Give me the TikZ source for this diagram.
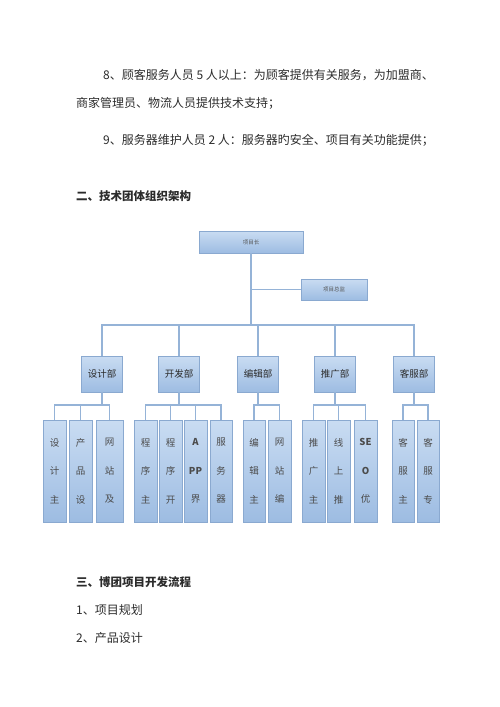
\documentclass[tikz,border=0pt]{standalone}
\usepackage{fontspec}
\setmainfont{Noto Sans CJK SC}
\definecolor{txt}{HTML}{2B2B2B}
\definecolor{boxtop}{HTML}{C9DCF2}
\definecolor{boxbot}{HTML}{9DBCE2}
\definecolor{boxline}{HTML}{8AA9D0}
\definecolor{conn}{HTML}{95B3D7}
\tikzset{
  para/.style={anchor=west, text=txt, font=\fontsize{12}{13}\selectfont, inner sep=0pt},
  head/.style={anchor=west, text=txt, font=\fontsize{11.5}{13}\selectfont\bfseries, inner sep=0pt},
  orgbox/.style={draw=boxline, line width=0.8pt, top color=boxtop, bottom color=boxbot, inner sep=0pt},
  dept/.style={orgbox, minimum width=41pt, minimum height=36pt, text=txt, font=\fontsize{9.5}{11}\selectfont},
  leaf/.style={orgbox, minimum height=102pt, text=txt!85, align=center, font=\fontsize{9.5}{28.5}\selectfont},
  conline/.style={draw=conn, line width=1.2pt}
}
\begin{document}
\begin{tikzpicture}[x=1pt,y=-1pt]
\useasboundingbox (0,0) rectangle (500,707);
% paragraph text
\node[para] (p1) at (103,75) {8、顾客服务人员 5 人以上：为顾客提供有关服务，为加盟商、};
\node[para] (p2) at (76,103) {商家管理员、物流人员提供技术支持；};
\node[para] (p3) at (103,140) {9、服务器维护人员 2 人：服务器旳安全、项目有关功能提供；};
\node[head] (h2) at (76,196) {二、技术团体组织架构};
\node[head] (h3) at (76,582) {三、博团项目开发流程};
\node[para] (s1) at (76,610) {1、项目规划};
\node[para] (s2) at (76,638) {2、产品设计};

% top level
\node[orgbox, minimum width=104pt, minimum height=22pt, text=txt!80, font=\fontsize{5.5}{6}\selectfont] (top) at (251,242) {\raisebox{-5pt}{项目长}};
\node[orgbox, minimum width=66pt, minimum height=21pt, text=txt!80, font=\fontsize{5.5}{6}\selectfont] (asst) at (334,289.5) {\raisebox{-4pt}{项目总监}};

% departments
\node[dept] (d1) at (102,374) {设计部};
\node[dept] (d2) at (179,374) {开发部};
\node[dept] (d3) at (258,374) {编辑部};
\node[dept] (d4) at (335,374) {推广部};
\node[dept] (d5) at (414,374) {客服部};

% leaves
\node[leaf, minimum width=23pt] (l11) at (54.5,471) {设\\计\\主};
\node[leaf, minimum width=23pt] (l12) at (80.5,471) {产\\品\\设};
\node[leaf, minimum width=27pt] (l13) at (109.5,471) {网\\站\\及};
\node[leaf, minimum width=23pt] (l21) at (145.5,471) {程\\序\\主};
\node[leaf, minimum width=23pt] (l22) at (170.5,471) {程\\序\\开};
\node[leaf, minimum width=23pt] (l23) at (195.5,471) {\textbf{A}\\\textbf{PP}\\界};
\node[leaf, minimum width=22pt] (l24) at (221,471) {服\\务\\器};
\node[leaf, minimum width=22pt] (l31) at (254,471) {编\\辑\\主};
\node[leaf, minimum width=23pt] (l32) at (279.5,471) {网\\站\\编};
\node[leaf, minimum width=23pt] (l41) at (313.5,471) {推\\广\\主};
\node[leaf, minimum width=23pt] (l42) at (338.5,471) {线\\上\\推};
\node[leaf, minimum width=23pt] (l43) at (365.5,471) {\textbf{SE}\\\textbf{O}\\优};
\node[leaf, minimum width=22pt] (l51) at (403,471) {客\\服\\主};
\node[leaf, minimum width=22pt] (l52) at (428,471) {客\\服\\专};

% connectors
\coordinate (bus) at (251,325);
\coordinate (abr) at (251,289.5);
\draw[conline] (top.south) -- (bus);
\draw[conline] (abr) -- (asst.west);
\foreach \d in {d1,d2,d3,d4,d5} \draw[conline] (bus) -| (\d.north);
\coordinate (j1) at (102,405);
\coordinate (j2) at (179,405);
\coordinate (j3) at (258,405);
\coordinate (j4) at (335,405);
\coordinate (j5) at (414,405);
\foreach \i in {1,...,5} \draw[conline] (d\i.south) -- (j\i);
\foreach \l in {l11,l12,l13} \draw[conline] (j1) -| (\l.north);
\foreach \l in {l21,l22,l23,l24} \draw[conline] (j2) -| (\l.north);
\foreach \l in {l31,l32} \draw[conline] (j3) -| (\l.north);
\foreach \l in {l41,l42,l43} \draw[conline] (j4) -| (\l.north);
\foreach \l in {l51,l52} \draw[conline] (j5) -| (\l.north);
\end{tikzpicture}
\end{document}
